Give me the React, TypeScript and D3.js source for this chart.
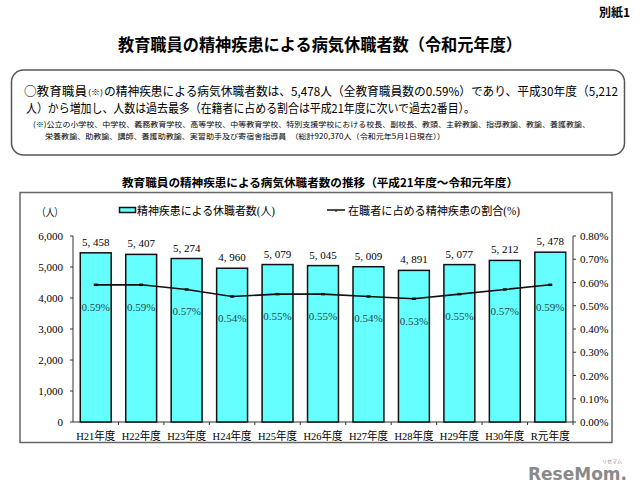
import React from "react";
import * as d3 from "d3";

const categories = ["H21年度", "H22年度", "H23年度", "H24年度", "H25年度", "H26年度", "H27年度", "H28年度", "H29年度", "H30年度", "R元年度"];
const counts = [5458, 5407, 5274, 4960, 5079, 5045, 5009, 4891, 5077, 5212, 5478];
const ratios = [0.59, 0.59, 0.57, 0.54, 0.55, 0.55, 0.54, 0.53, 0.55, 0.57, 0.59];
const leftTicks = [0, 1000, 2000, 3000, 4000, 5000, 6000];
const rightTicks = [0, 0.1, 0.2, 0.3, 0.4, 0.5, 0.6, 0.7, 0.8];

const W = 640, H = 495;
const X0 = 73, X1 = 573, YTOP = 236, YBOT = 422;
const serif = "'Liberation Serif','DejaVu Serif','Noto Sans CJK JP',serif";
const gothic = "'Noto Sans CJK JP','Noto Sans',sans-serif";

export default function App() {
  const x = d3.scaleBand<string>().domain(categories).range([X0, X1]).paddingInner(0.32).paddingOuter(0.16);
  const yL = d3.scaleLinear().domain([0, 6000]).range([YBOT, YTOP]);
  const yR = d3.scaleLinear().domain([0, 0.8]).range([YBOT, YTOP]);
  const cx = (c: string) => (x(c) ?? 0) + x.bandwidth() / 2;
  const line = d3.line<number>().x((_, i) => cx(categories[i])).y((d) => yR(d));
  const fmtCount = (v: number) => d3.format(",")(v).replace(",", ", ");
  const step = (X1 - X0) / categories.length;

  return (
    <svg width={W} height={H} style={{ position: "absolute", left: 0, top: 0, background: "#fff" }}>
      <rect width={W} height={H} fill="#fff" />
      <text x={630} y={17} textAnchor="end" fontFamily={gothic} fontWeight="bold" fontSize={12}>別紙1</text>
      <text x={320} y={51} textAnchor="middle" fontFamily={gothic} fontWeight="bold" fontSize={16.5} textLength={404} lengthAdjust="spacingAndGlyphs">教育職員の精神疾患による病気休職者数（令和元年度）</text>

      <rect x={11.5} y={70} width={613} height={85} rx={12} fill="#fff" stroke="#555" strokeWidth={1.5} />
      <text x={24} y={96} fontFamily={gothic} fontSize={12.3} textLength={63} lengthAdjust="spacingAndGlyphs">○教育職員</text>
      <text x={88} y={95} fontFamily={gothic} fontSize={7.5} textLength={15} lengthAdjust="spacingAndGlyphs">(※)</text>
      <text x={104} y={96} fontFamily={gothic} fontSize={12.3} textLength={514} lengthAdjust="spacingAndGlyphs">の精神疾患による病気休職者数は、5,478人（全教育職員数の0.59%）であり、平成30年度（5,212</text>
      <text x={26} y={113} fontFamily={gothic} fontSize={12.3} textLength={449} lengthAdjust="spacingAndGlyphs">人）から増加し、人数は過去最多（在籍者に占める割合は平成21年度に次いで過去2番目）。</text>
      <text x={33} y={127} fontFamily={gothic} fontSize={7.4} textLength={557} lengthAdjust="spacingAndGlyphs">(※)公立の小学校、中学校、義務教育学校、高等学校、中等教育学校、特別支援学校における校長、副校長、教頭、主幹教諭、指導教諭、教諭、養護教諭、</text>
      <text x={45} y={139} fontFamily={gothic} fontSize={7.4} textLength={400} lengthAdjust="spacingAndGlyphs">栄養教諭、助教諭、講師、養護助教諭、実習助手及び寄宿舎指導員　（総計920,370人（令和元年5月1日現在））</text>

      <text x={320} y={187} textAnchor="middle" fontFamily={gothic} fontWeight="bold" fontSize={11.5} textLength={396} lengthAdjust="spacingAndGlyphs">教育職員の精神疾患による病気休職者数の推移（平成21年度～令和元年度）</text>

      <rect x={20} y={192.5} width={592} height={250} fill="#fff" stroke="#666" strokeWidth={1.5} />

      <text x={37} y={216} fontFamily={serif} fontSize={10.5} textLength={26} lengthAdjust="spacingAndGlyphs">（人）</text>
      <rect x={119.5} y={207.5} width={16} height={5} fill="#66ffff" stroke="#111" strokeWidth={1.5} />
      <text x={137} y={215} fontFamily={serif} fontSize={11.5} textLength={138} lengthAdjust="spacingAndGlyphs">精神疾患による休職者数(人)</text>
      <line x1={327} x2={345} y1={210} y2={210} stroke="#111" strokeWidth={1.5} />
      <line x1={336} x2={336} y1={210} y2={212} stroke="#111" strokeWidth={1} />
      <text x={348} y={215} fontFamily={serif} fontSize={11.5} textLength={172} lengthAdjust="spacingAndGlyphs">在職者に占める精神疾患の割合(%)</text>

      {/* left axis */}
      <line x1={X0} x2={X0} y1={YTOP} y2={YBOT} stroke="#333" strokeWidth={1} />
      {leftTicks.map((t) => (
        <g key={"l" + t}>
          <line x1={X0 - 3} x2={X0} y1={yL(t)} y2={yL(t)} stroke="#333" />
          <text x={63} y={yL(t) + 4} textAnchor="end" fontFamily={serif} fontSize={11}>{d3.format(",")(t)}</text>
        </g>
      ))}
      {/* right axis */}
      <line x1={X1} x2={X1} y1={YTOP} y2={YBOT} stroke="#333" strokeWidth={1} />
      {rightTicks.map((t) => (
        <g key={"r" + t}>
          <line x1={X1} x2={X1 + 3} y1={yR(t)} y2={yR(t)} stroke="#333" />
          <text x={580} y={yR(t) + 4} fontFamily={serif} fontSize={11}>{t.toFixed(2) + "%"}</text>
        </g>
      ))}
      {/* x axis */}
      <line x1={X0} x2={X1} y1={YBOT} y2={YBOT} stroke="#333" strokeWidth={1} />
      {categories.map((c, i) => (
        <line key={"xt" + c} x1={X0 + step * (i + 1)} x2={X0 + step * (i + 1)} y1={YBOT} y2={YBOT + 3} stroke="#333" />
      ))}

      {categories.map((c, i) => (
        <g key={c}>
          <rect x={x(c)} y={yL(counts[i])} width={x.bandwidth()} height={YBOT - yL(counts[i])} fill="#66ffff" stroke="#111" strokeWidth={1.5} />
          <text x={cx(c)} y={yL(counts[i]) - 7} textAnchor="middle" fontFamily={serif} fontSize={11}>{fmtCount(counts[i])}</text>
          <text x={cx(c)} y={yR(ratios[i]) + 26} textAnchor="middle" fontFamily={serif} fontSize={11} fill="#1e4a4a">{ratios[i].toFixed(2) + "%"}</text>
          <text x={cx(c)} y={440} textAnchor="middle" fontFamily={serif} fontSize={11} textLength={39} lengthAdjust="spacingAndGlyphs">{c}</text>
        </g>
      ))}

      <path d={line(ratios) ?? ""} fill="none" stroke="#111" strokeWidth={1.6} />
      {ratios.map((r, i) => (
        <line key={"m" + i} x1={cx(categories[i]) - 2} x2={cx(categories[i]) + 2} y1={yR(r)} y2={yR(r)} stroke="#111" strokeWidth={2.5} />
      ))}

      <text x={528} y={480} fontFamily="'DejaVu Sans',sans-serif" fontWeight="bold" fontSize={18} fill="#8a8a8a" textLength={99} lengthAdjust="spacingAndGlyphs">ReseMom.</text>
      <text x={622} y={463} textAnchor="end" fontFamily={gothic} fontSize={5} fill="#8a8a8a">リセマム</text>
    </svg>
  );
}
